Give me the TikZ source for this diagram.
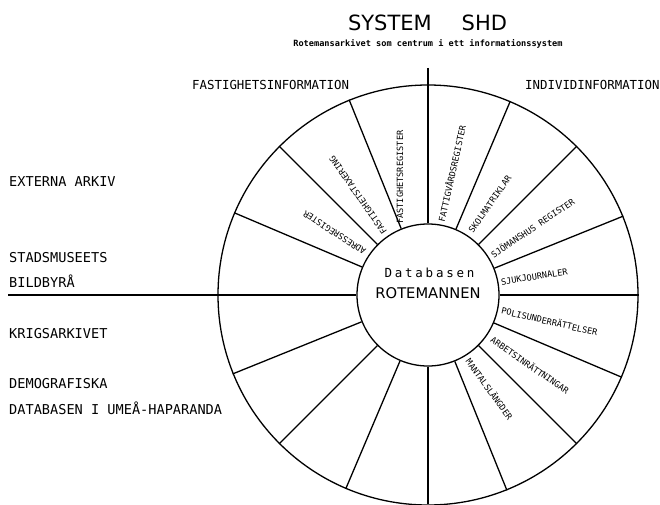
\documentclass[tikz,border=0pt]{standalone}
\usepackage{fontspec}
\setmainfont{DejaVu Sans}
\newfontfamily\plotmono{DejaVu Sans Mono}
\newfontfamily\plotsans{DejaVu Sans}
\newfontfamily\plotspaced[LetterSpace=22]{DejaVu Sans Mono}
\begin{document}
\begin{tikzpicture}[x=1pt,y=1pt,
  wheel/.style={line width=1.3pt},
  sector/.style={font=\plotmono\fontsize{8.6}{9}\selectfont, inner sep=0pt, anchor=west},
  side/.style={font=\plotmono\fontsize{13.6}{15}\selectfont, inner sep=0pt, anchor=base west},
  head/.style={font=\plotmono\fontsize{12.4}{14}\selectfont, inner sep=0pt, anchor=base west}]
\useasboundingbox (0,0) rectangle (660,504);
\coordinate (c) at (428,209);
\node[circle, draw, wheel, minimum size=142pt, inner sep=0pt] (db) at (c) {};
\node[circle, draw, wheel, minimum size=420pt, inner sep=0pt] (outer) at (c) {};
\foreach \a in {0,22.5,45,67.5,112.5,135,157.5,202.5,225,247.5,292.5,315,337.5}
  \draw[wheel] (db.\a) -- (outer.\a);
\coordinate (vtop) at (428,436);
\coordinate (vbot) at (428,0);
\coordinate (hleft) at (8,209);
\draw[wheel] (vtop) -- (db.north);
\draw[wheel] (db.south) -- (vbot);
\draw[wheel] (hleft) -- (db.west);

\node[font=\plotsans\fontsize{21}{24}\selectfont, inner sep=0pt] (title) at (427.5,481) {SYSTEM\hspace{30pt}SHD};
\node[font=\plotmono\bfseries\fontsize{8.6}{9}\selectfont, inner sep=0pt] (sub) at (428,460) {Rotemansarkivet som centrum i ett informationssystem};

\node[font=\plotspaced\fontsize{12.5}{13}\selectfont, inner sep=0pt] (dbt) at (429.5,231) {Databasen};
\node[font=\plotsans\fontsize{14.7}{16}\selectfont, inner sep=0pt] (rot) at (428,211) {ROTEMANNEN};

\node[head] (fast) at (192,414.5) {FASTIGHETSINFORMATION};
\node[head] (indiv) at (525,414.5) {INDIVIDINFORMATION};

\node[side] (ext) at (9,317) {EXTERNA ARKIV};
\node[side] (stads) at (9,242) {STADSMUSEETS};
\node[side] (bild) at (9,217) {BILDBYRÅ};
\node[side] (krig) at (9,166) {KRIGSARKIVET};
\node[side] (demo) at (9,116) {DEMOGRAFISKA};
\node[side] (umea) at (9,90) {DATABASEN I UMEÅ-HAPARANDA};

\node[sector, rotate=90] (freg) at (400,280) {FASTIGHETSREGISTER};
\node[sector, rotate=125] (ftax) at ([shift={(125:75)}]c) {FASTIGHETSTAXERING};
\node[sector, rotate=147] (adr) at ([shift={(146:76)}]c) {ADRESSREGISTER};
\node[sector, rotate=77.5] (fatt) at ([shift={(80:74)}]c) {FATTIGVÅRDSREGISTER};
\node[sector, rotate=55] (skol) at ([shift={(56:76)}]c) {SKOLMATRIKLAR};
\node[sector, rotate=34] (sjom) at ([shift={(32:75)}]c) {SJÖMANSHUS REGISTER};
\node[sector, rotate=9] (sjuk) at ([shift={(10:74)}]c) {SJUKJOURNALER};
\node[sector, rotate=-13] (pol) at ([shift={(-11.5:75)}]c) {POLISUNDERRÄTTELSER};
\node[sector, rotate=-35] (arb) at ([shift={(-34:77)}]c) {ARBETSINRÄTTNINGAR};
\node[sector, rotate=-54] (mant) at ([shift={(-58:76)}]c) {MANTALSLÄNGDER};
\end{tikzpicture}
\end{document}
